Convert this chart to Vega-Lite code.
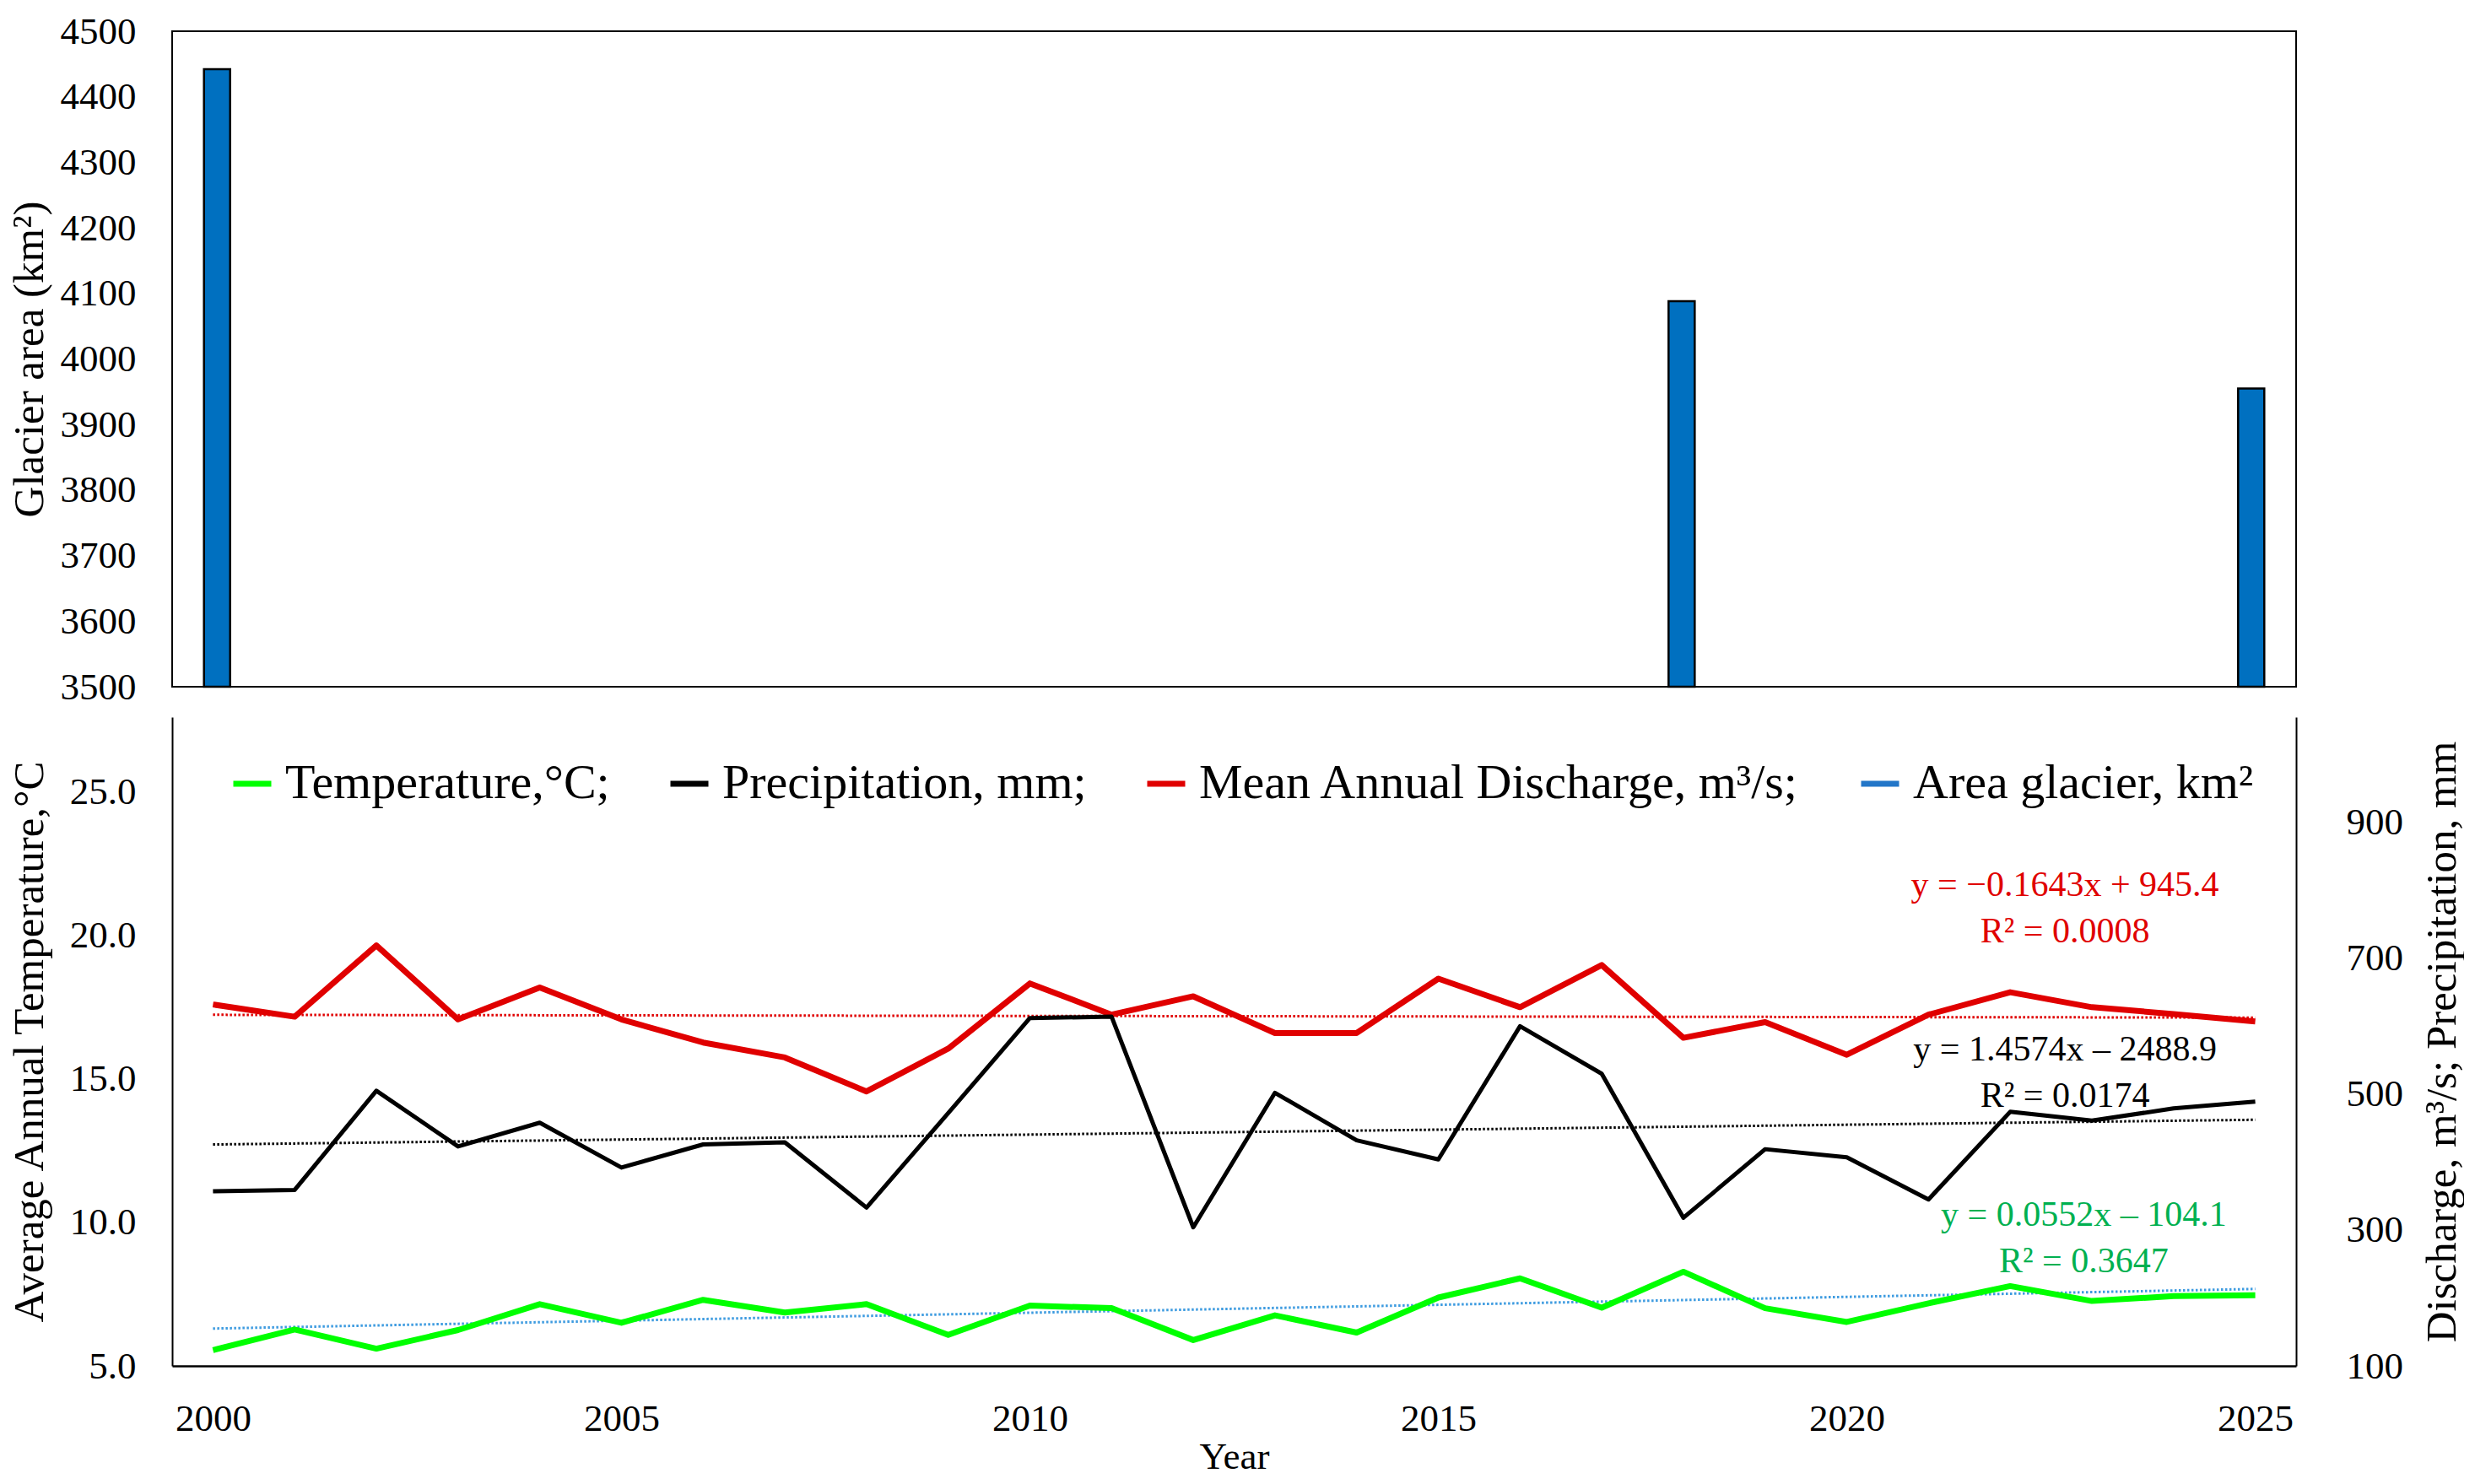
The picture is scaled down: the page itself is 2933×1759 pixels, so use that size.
{
  "$schema": "https://vega.github.io/schema/vega-lite/v6.json",
  "padding": {"top": 14, "left": 8, "right": 0, "bottom": 0},
  "background": "white",
  "config": {
    "font": "Liberation Serif",
    "view": {"stroke": null},
    "axis": {
      "labelFont": "Liberation Serif",
      "titleFont": "Liberation Serif",
      "labelColor": "black",
      "titleColor": "black",
      "titleFontWeight": "normal",
      "labelFontSize": 45,
      "titleFontSize": 51,
      "ticks": false,
      "grid": false,
      "domainColor": "black",
      "domainWidth": 2
    },
    "text": {"font": "Liberation Serif"}
  },
  "datasets": {
    "area": [
      {"year": 2000, "area": 4442},
      {"year": 2018, "area": 4088},
      {"year": 2025, "area": 3955}
    ],
    "climate": [
      {"year": 2000, "temperature": 5.55, "precipitation": 357, "discharge": 632},
      {"year": 2001, "temperature": 6.27, "precipitation": 359, "discharge": 614},
      {"year": 2002, "temperature": 5.6, "precipitation": 505, "discharge": 719},
      {"year": 2003, "temperature": 6.25, "precipitation": 423, "discharge": 610},
      {"year": 2004, "temperature": 7.15, "precipitation": 458, "discharge": 657},
      {"year": 2005, "temperature": 6.5, "precipitation": 392, "discharge": 610},
      {"year": 2006, "temperature": 7.3, "precipitation": 426, "discharge": 576},
      {"year": 2007, "temperature": 6.86, "precipitation": 429, "discharge": 554},
      {"year": 2008, "temperature": 7.15, "precipitation": 333, "discharge": 504},
      {"year": 2009, "temperature": 6.08, "precipitation": 472, "discharge": 567},
      {"year": 2010, "temperature": 7.1, "precipitation": 612, "discharge": 663},
      {"year": 2011, "temperature": 7.01, "precipitation": 614, "discharge": 617},
      {"year": 2012, "temperature": 5.9, "precipitation": 304, "discharge": 644},
      {"year": 2013, "temperature": 6.76, "precipitation": 502, "discharge": 590},
      {"year": 2014, "temperature": 6.16, "precipitation": 432, "discharge": 590},
      {"year": 2015, "temperature": 7.38, "precipitation": 404, "discharge": 670},
      {"year": 2016, "temperature": 8.05, "precipitation": 600, "discharge": 628},
      {"year": 2017, "temperature": 7.03, "precipitation": 530, "discharge": 690},
      {"year": 2018, "temperature": 8.28, "precipitation": 318, "discharge": 583},
      {"year": 2019, "temperature": 7.01, "precipitation": 419, "discharge": 606},
      {"year": 2020, "temperature": 6.53, "precipitation": 407, "discharge": 558},
      {"year": 2021, "temperature": 7.18, "precipitation": 345, "discharge": 617},
      {"year": 2022, "temperature": 7.78, "precipitation": 474, "discharge": 650},
      {"year": 2023, "temperature": 7.26, "precipitation": 461, "discharge": 628},
      {"year": 2024, "temperature": 7.43, "precipitation": 479, "discharge": 618},
      {"year": 2025, "temperature": 7.46, "precipitation": 489, "discharge": 607}
    ],
    "trend": [
      {"year": 2000, "temperature": 6.3, "precipitation": 425.9, "discharge": 616.8},
      {"year": 2025, "temperature": 7.68, "precipitation": 462.3, "discharge": 612.7}
    ],
    "single": [{}]
  },
  "bounds": "flush",
  "spacing": 36,
  "resolve": {"scale": {"color": "independent"}, "legend": {"color": "independent"}},
  "vconcat": [
    {
      "width": 2517,
      "height": 777,
      "view": {"stroke": "black", "strokeWidth": 2},
      "data": {"name": "area"},
      "mark": {"type": "bar", "size": 31, "color": "#0070C0", "stroke": "black", "strokeWidth": 2.5},
      "encoding": {
        "x": {
          "field": "year", "type": "quantitative",
          "scale": {"domain": [1999.5, 2025.5], "nice": false, "zero": false},
          "axis": null
        },
        "y": {
          "field": "area", "type": "quantitative",
          "scale": {"domain": [3500, 4500], "nice": false, "zero": false},
          "axis": {
            "title": "Glacier area (km²)",
            "values": [3500, 3600, 3700, 3800, 3900, 4000, 4100, 4200, 4300, 4400, 4500],
            "format": "d",
            "domain": false,
            "labelPadding": 43,
            "minExtent": 133,
            "maxExtent": 133,
            "titlePadding": 10
          }
        },
        "y2": {"datum": 3500}
      }
    },
    {
      "width": 2517,
      "height": 769,
      "resolve": {"scale": {"y": "independent"}},
      "layer": [
        {
          "layer": [
            {
              "data": {"name": "trend"},
              "mark": {"type": "line", "stroke": "#3D9BE0", "strokeWidth": 3, "strokeDash": [2.5, 2.5]},
              "encoding": {
                "x": {"field": "year", "type": "quantitative", "scale": {"domain": [1999.5, 2025.5], "nice": false, "zero": false}},
                "y": {"field": "temperature", "type": "quantitative", "scale": {"domain": [5, 27.6], "nice": false, "zero": false}}
              }
            },
            {
              "data": {"name": "climate"},
              "mark": {"type": "line", "strokeWidth": 7, "strokeJoin": "round"},
              "encoding": {
                "x": {
                  "field": "year", "type": "quantitative",
                  "scale": {"domain": [1999.5, 2025.5], "nice": false, "zero": false},
                  "axis": {
                    "values": [2000, 2005, 2010, 2015, 2020, 2025],
                    "format": "d",
                    "title": "Year",
                    "titleFontSize": 45,
                    "labelPadding": 40,
                    "titlePadding": 0,
                    "domainWidth": 2.5
                  }
                },
                "y": {
                  "field": "temperature", "type": "quantitative",
                  "scale": {"domain": [5, 27.6], "nice": false, "zero": false},
                  "axis": {
                    "title": "Average Annual Temperature,°C",
                    "values": [5, 10, 15, 20, 25],
                    "format": ".1f",
                    "labelPadding": 43,
                    "minExtent": 133,
                    "maxExtent": 133,
                    "titlePadding": 10
                  }
                },
                "color": {
                  "datum": "Temperature,°C;", "type": "nominal",
                  "scale": {
                    "domain": ["Temperature,°C;", "Precipitation, mm;", "Mean Annual Discharge, m³/s;", "Area glacier, km²"],
                    "range": ["#00FF00", "#000000", "#E00000", "#2376C8"]
                  },
                  "legend": {
                    "title": null,
                    "orient": "none",
                    "direction": "horizontal",
                    "legendX": 66,
                    "legendY": 50,
                    "labelFontSize": 58,
                    "labelFont": "Liberation Serif",
                    "labelColor": "black",
                    "labelLimit": 0,
                    "labelOffset": 10,
                    "columnPadding": 57,
                    "symbolType": "stroke",
                    "symbolSize": 2025,
                    "symbolStrokeWidth": 7
                  }
                }
              }
            },
            {
              "data": {"name": "single"},
              "mark": {"type": "text", "color": "#00B050", "fontSize": 42, "lineHeight": 55, "align": "center", "baseline": "middle"},
              "encoding": {
                "x": {"datum": 2022.9, "type": "quantitative", "scale": {"domain": [1999.5, 2025.5], "nice": false, "zero": false}},
                "y": {"datum": 10.25, "type": "quantitative", "scale": {"domain": [5, 27.6], "nice": false, "zero": false}},
                "text": {"value": ["y = 0.0552x – 104.1", "R² = 0.3647"]}
              }
            }
          ]
        },
        {
          "layer": [
            {
              "data": {"name": "trend"},
              "mark": {"type": "line", "stroke": "#E00000", "strokeWidth": 3, "strokeDash": [2.5, 2.5]},
              "encoding": {
                "x": {"field": "year", "type": "quantitative", "scale": {"domain": [1999.5, 2025.5], "nice": false, "zero": false}},
                "y": {"field": "discharge", "type": "quantitative", "scale": {"domain": [100, 1055], "nice": false, "zero": false}}
              }
            },
            {
              "data": {"name": "trend"},
              "mark": {"type": "line", "stroke": "#000000", "strokeWidth": 3, "strokeDash": [2.5, 2.5]},
              "encoding": {
                "x": {"field": "year", "type": "quantitative", "scale": {"domain": [1999.5, 2025.5], "nice": false, "zero": false}},
                "y": {"field": "precipitation", "type": "quantitative", "scale": {"domain": [100, 1055], "nice": false, "zero": false}}
              }
            },
            {
              "data": {"name": "climate"},
              "mark": {"type": "line", "strokeWidth": 7, "strokeJoin": "round"},
              "encoding": {
                "x": {"field": "year", "type": "quantitative", "scale": {"domain": [1999.5, 2025.5], "nice": false, "zero": false}},
                "y": {
                  "field": "discharge", "type": "quantitative",
                  "scale": {"domain": [100, 1055], "nice": false, "zero": false},
                  "axis": {
                    "orient": "right",
                    "title": "Discharge, m³/s; Precipitation, mm",
                    "values": [100, 300, 500, 700, 900],
                    "format": "d",
                    "labelPadding": 59,
                    "titleAngle": 270,
                    "titleBaseline": "top",
                    "titlePadding": 22
                  }
                },
                "color": {"datum": "Mean Annual Discharge, m³/s;", "type": "nominal"}
              }
            },
            {
              "data": {"name": "climate"},
              "mark": {"type": "line", "strokeWidth": 5, "strokeJoin": "round"},
              "encoding": {
                "x": {"field": "year", "type": "quantitative", "scale": {"domain": [1999.5, 2025.5], "nice": false, "zero": false}},
                "y": {"field": "precipitation", "type": "quantitative", "scale": {"domain": [100, 1055], "nice": false, "zero": false}},
                "color": {"datum": "Precipitation, mm;", "type": "nominal"}
              }
            },
            {
              "data": {"name": "single"},
              "mark": {"type": "text", "color": "#E00000", "fontSize": 42, "lineHeight": 55, "align": "center", "baseline": "middle"},
              "encoding": {
                "x": {"datum": 2022.67, "type": "quantitative", "scale": {"domain": [1999.5, 2025.5], "nice": false, "zero": false}},
                "y": {"datum": 807.6, "type": "quantitative", "scale": {"domain": [100, 1055], "nice": false, "zero": false}},
                "text": {"value": ["y = −0.1643x + 945.4", "R² = 0.0008"]}
              }
            },
            {
              "data": {"name": "single"},
              "mark": {"type": "text", "color": "#000000", "fontSize": 42, "lineHeight": 55, "align": "center", "baseline": "middle"},
              "encoding": {
                "x": {"datum": 2022.67, "type": "quantitative", "scale": {"domain": [1999.5, 2025.5], "nice": false, "zero": false}},
                "y": {"datum": 565.5, "type": "quantitative", "scale": {"domain": [100, 1055], "nice": false, "zero": false}},
                "text": {"value": ["y = 1.4574x – 2488.9", "R² = 0.0174"]}
              }
            }
          ]
        }
      ]
    }
  ]
}
